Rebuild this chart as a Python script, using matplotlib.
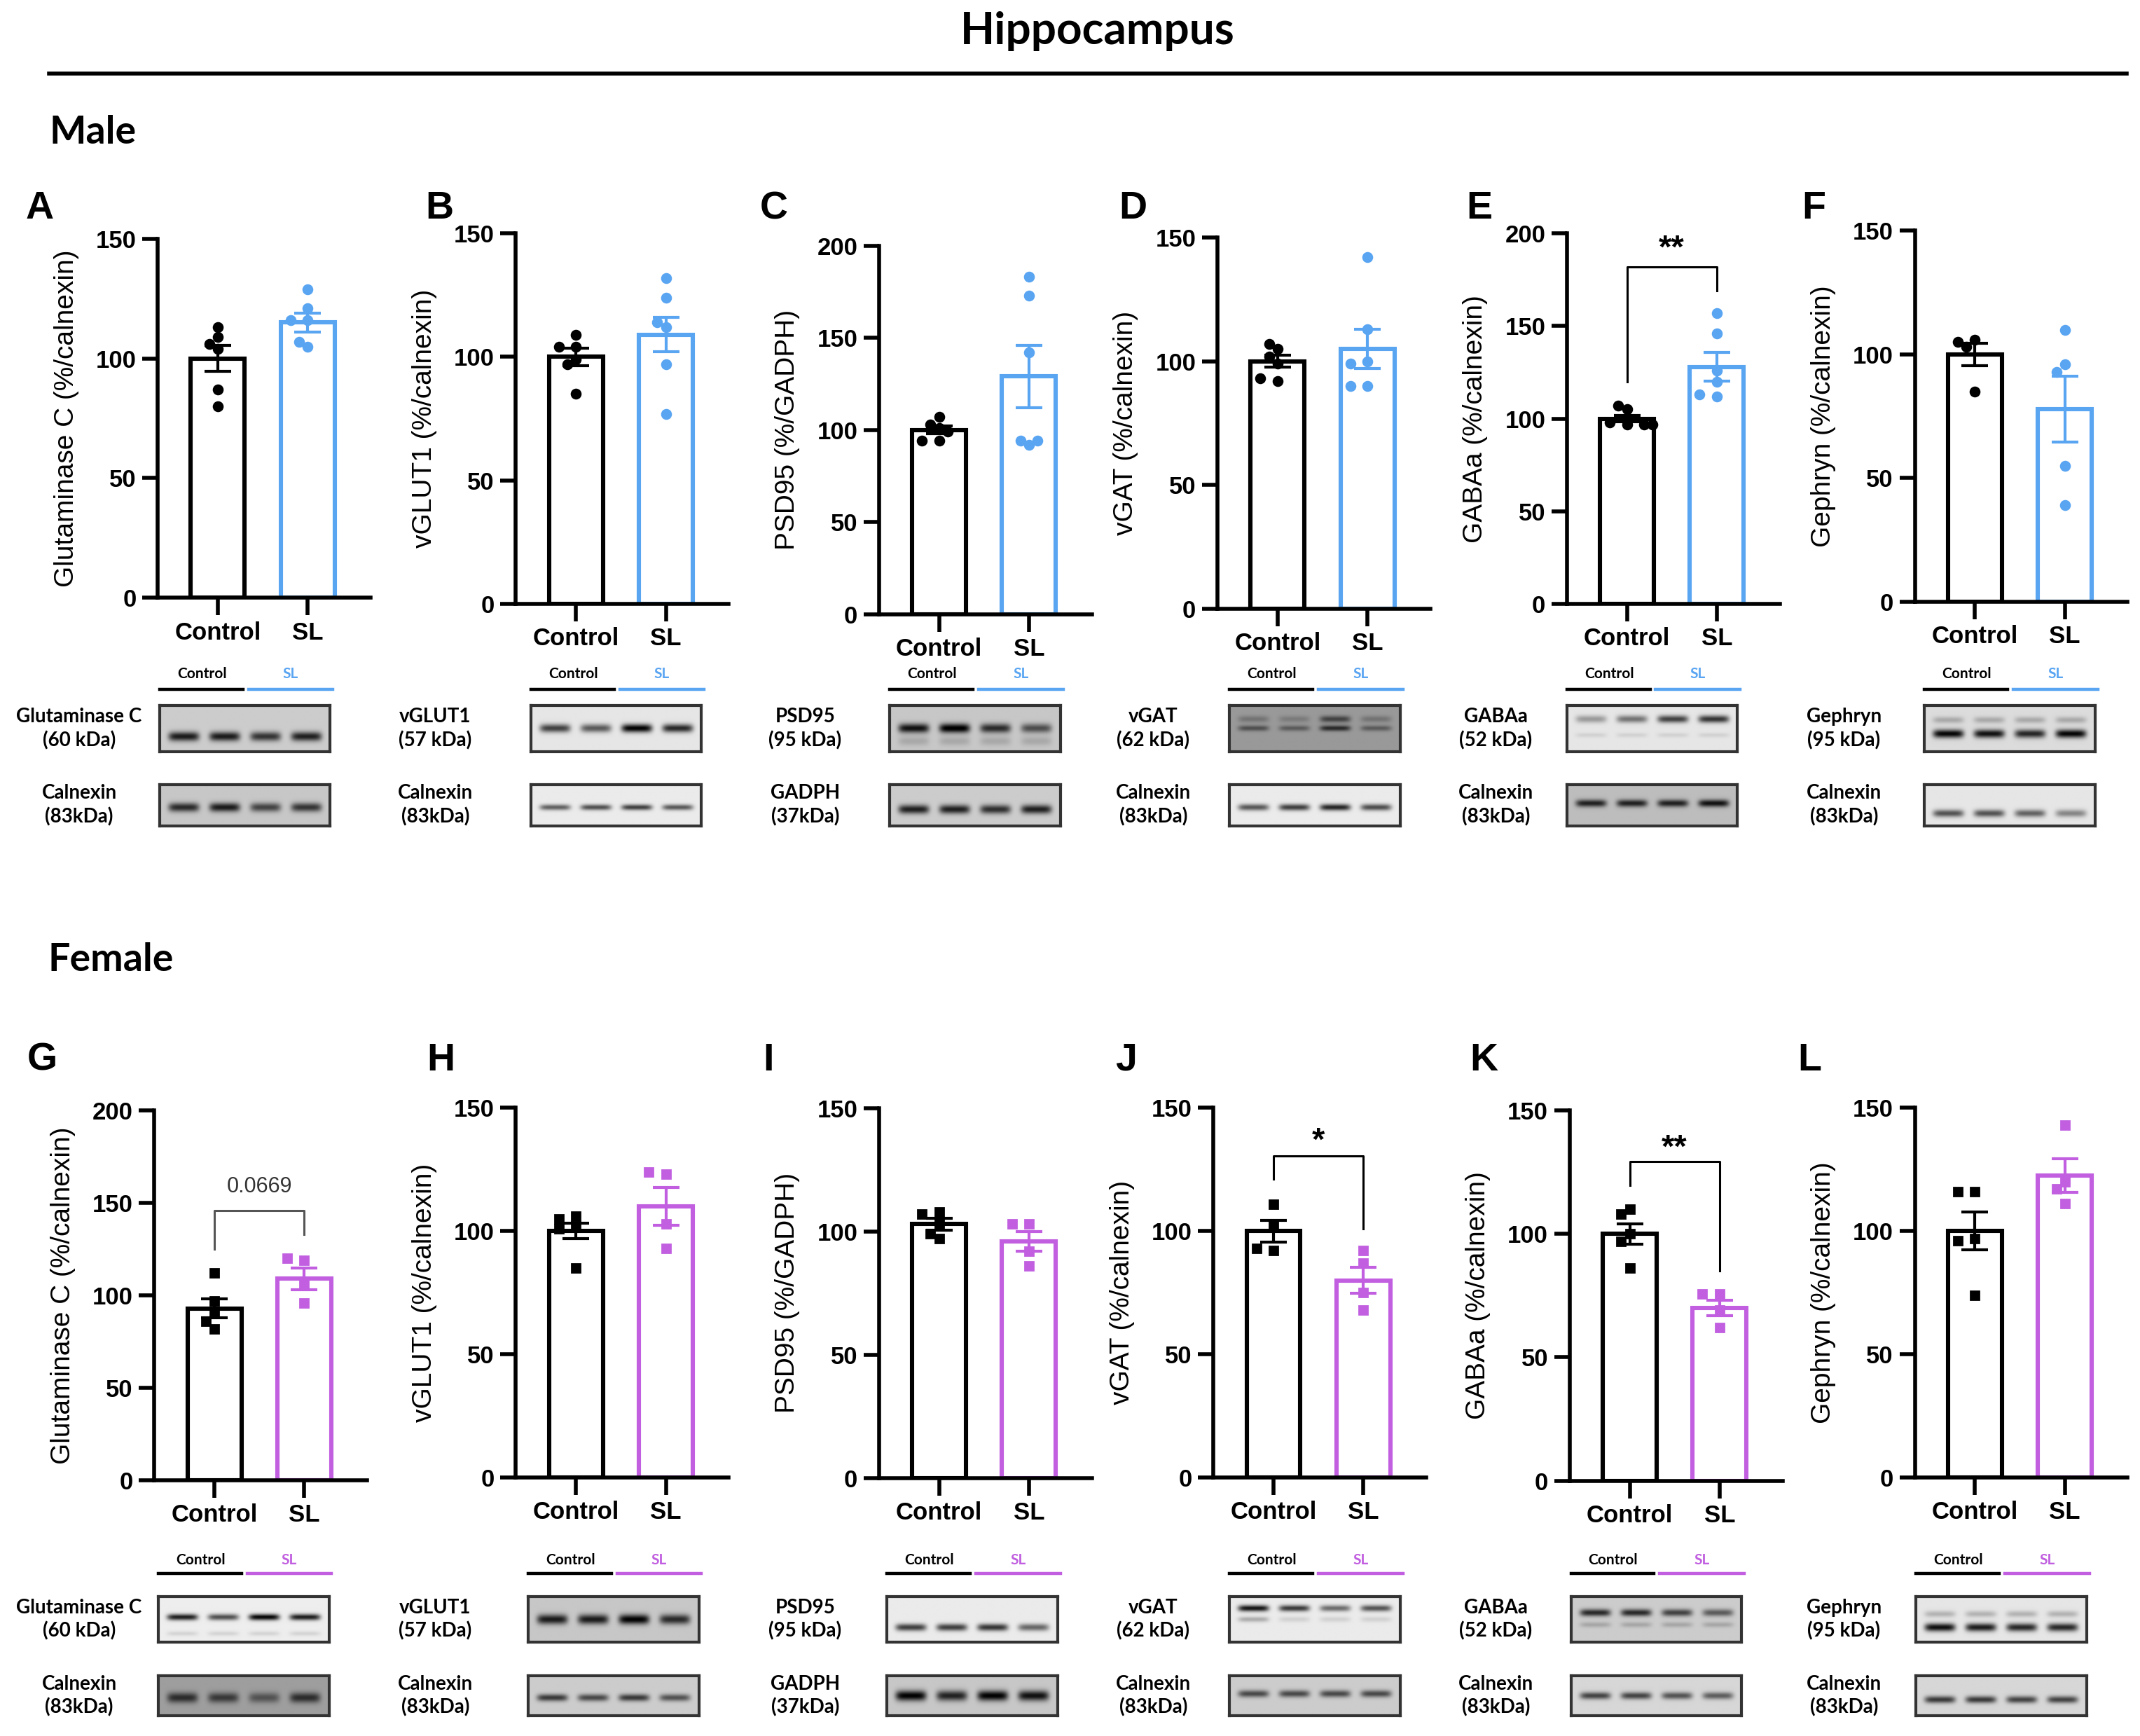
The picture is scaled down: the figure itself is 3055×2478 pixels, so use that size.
import numpy as np
import matplotlib
matplotlib.use("Agg")
import matplotlib.pyplot as plt
from matplotlib.lines import Line2D

plt.rcParams['font.family'] = ['Liberation Sans', 'DejaVu Sans']

# ---------------- data ----------------
groups = ["Control", "SL"]

male_ylabels = ["Glutaminase C (%/calnexin)", "vGLUT1 (%/calnexin)", "PSD95 (%/GADPH)",
                "vGAT (%/calnexin)", "GABAa (%/calnexin)", "Gephryn (%/calnexin)"]
female_ylabels = male_ylabels
male_ymax = [150, 150, 200, 150, 200, 150]
female_ymax = [200, 150, 150, 150, 150, 150]

male_ctrl_pts = [[113, 109, 104, 106, 87, 80], [109, 104, 104, 99, 97, 85],
                 [107, 103, 101, 99, 94, 94], [105, 107, 102, 99, 92, 93],
                 [105, 107, 97, 98, 97, 97], [106, 105, 103, 85]]
male_sl_pts = [[129, 121, 116, 116, 105, 107], [132, 124, 112, 114, 97, 77],
               [183, 173, 142, 92, 94, 94], [142, 113, 100, 99, 90, 90],
               [157, 146, 126, 120, 112, 113], [110, 96, 93, 55, 39]]
male_means = [[100, 115], [100, 109], [100, 129], [100, 105], [100, 128], [100, 78]]
male_sems = [[5.5, 3.9], [3.6, 7.0], [2.0, 17.0], [2.3, 8.0], [1.8, 7.8], [4.5, 13.3]]

female_ctrl_pts = [[112, 97, 91, 82, 86], [106, 105, 102, 101, 85],
                   [108, 107, 103, 97, 99], [111, 103, 92, 93],
                   [110, 108, 100, 97, 86], [116, 116, 97, 96, 74]]
female_sl_pts = [[119, 120, 106, 96], [123, 124, 103, 93], [103, 103, 92, 86],
                 [92, 87, 75, 68], [75.5, 75.5, 69, 62], [143, 120, 117, 111]]
female_means = [[93, 109], [100, 110], [103, 96], [100, 80], [100, 70], [100, 122.5]]
female_sems = [[5.1, 5.9], [3.2, 7.7], [2.4, 3.9], [4.5, 5.2], [4.1, 3.1], [7.6, 6.9]]

# significance: panel index -> (text, bracket height, left leg end, right leg end, text centre)
male_sig = {4: ("**", 182, 120, 169, 196)}
female_sig = {0: ("0.0669", 146, 125, 133, 160),
              3: ("*", 130.5, 121, 101, 139.6),
              4: ("**", 129.3, 119.5, 85, 137.6)}

letters_m = ["A", "B", "C", "D", "E", "F"]
letters_f = ["G", "H", "I", "J", "K", "L"]

blot_top_m = ["Glutaminase C\n(60 kDa)", "vGLUT1\n(57 kDa)", "PSD95\n(95 kDa)",
              "vGAT\n(62 kDa)", "GABAa\n(52 kDa)", "Gephryn\n(95 kDa)"]
blot_bot_m = ["Calnexin\n(83kDa)", "Calnexin\n(83kDa)", "GADPH\n(37kDa)",
              "Calnexin\n(83kDa)", "Calnexin\n(83kDa)", "Calnexin\n(83kDa)"]
blot_top_f = blot_top_m
blot_bot_f = blot_bot_m

# blot look: (background, [(row, sigma, lane darkness x4), ...])
blots_m_top = [(0.80, [(0.68, 0.10, [0.70, 0.70, 0.60, 0.68])]),
               (0.90, [(0.50, 0.09, [0.65, 0.55, 0.90, 0.75])]),
               (0.78, [(0.50, 0.10, [0.72, 0.82, 0.62, 0.48]), (0.78, 0.10, [0.12] * 4)]),
               (0.60, [(0.30, 0.07, [0.15, 0.12, 0.35, 0.15]), (0.50, 0.06, [0.30, 0.25, 0.45, 0.25])]),
               (0.90, [(0.30, 0.08, [0.30, 0.45, 0.65, 0.70]), (0.65, 0.05, [0.08] * 4)]),
               (0.86, [(0.32, 0.07, [0.20] * 4), (0.62, 0.09, [0.85, 0.80, 0.72, 0.85])])]
blots_m_bot = [(0.78, [(0.55, 0.11, [0.62, 0.68, 0.52, 0.58])]),
               (0.92, [(0.55, 0.07, [0.55, 0.62, 0.68, 0.58])]),
               (0.80, [(0.60, 0.11, [0.68, 0.68, 0.62, 0.68])]),
               (0.92, [(0.55, 0.08, [0.58, 0.68, 0.78, 0.62])]),
               (0.74, [(0.45, 0.09, [0.62, 0.62, 0.62, 0.68])]),
               (0.90, [(0.70, 0.09, [0.58, 0.58, 0.52, 0.38])])]
blots_f_top = [(0.93, [(0.45, 0.07, [0.82, 0.62, 0.92, 0.82]), (0.82, 0.05, [0.10] * 4)]),
               (0.78, [(0.50, 0.11, [0.68, 0.68, 0.78, 0.62])]),
               (0.92, [(0.68, 0.08, [0.68, 0.68, 0.72, 0.52])]),
               (0.92, [(0.25, 0.07, [0.85, 0.70, 0.50, 0.60]), (0.50, 0.06, [0.25, 0.10, 0.10, 0.10])]),
               (0.80, [(0.35, 0.08, [0.65, 0.65, 0.55, 0.45]), (0.62, 0.06, [0.15] * 4)]),
               (0.90, [(0.38, 0.07, [0.20] * 4), (0.68, 0.09, [0.85, 0.80, 0.75, 0.75])])]
blots_f_bot = [(0.62, [(0.55, 0.13, [0.45, 0.40, 0.30, 0.45])]),
               (0.80, [(0.55, 0.09, [0.58, 0.52, 0.58, 0.48])]),
               (0.78, [(0.50, 0.13, [0.78, 0.65, 0.78, 0.72])]),
               (0.80, [(0.45, 0.09, [0.52, 0.52, 0.52, 0.52])]),
               (0.84, [(0.50, 0.09, [0.58, 0.58, 0.52, 0.48])]),
               (0.84, [(0.60, 0.09, [0.62, 0.62, 0.58, 0.58])])]

# ---------------- layout (reference pixels at half scale) ----------------
W, H = 1568.0, 1272.0
AX_W = 156
UNIT = 66.0          # px between the two bars
XLIM = (-0.67, 1.70)

male_axes = [(115.5, 175, 438), (378, 171, 442.5), (644, 180, 450),
             (892, 174, 446), (1148, 171, 442.5), (1403, 169, 441)]
female_axes = [(113, 813.6, 1084.7), (378, 811.7, 1082.6), (644, 812, 1083),
               (889, 811.8, 1082.6), (1150, 813.5, 1085), (1403, 811.7, 1082.6)]
letter_x_m = [29, 322, 567, 830, 1084, 1329]
letter_x_f = [31, 323, 563, 825, 1087, 1326]
blot_left_m = [117, 389, 652, 901, 1148, 1410]
blot_left_f = [116, 387, 650, 901, 1151, 1404]
blot_label_x = [58, 319, 590, 845, 1096, 1351]

BLUE = "#5aa5f2"
PURPLE = "#c15fe0"


def fx(x):
    return x / W


def fy(y):
    return 1 - y / H


def swarm(vals, ymax, h_px, d_px=6.6):
    placed, offs = [], []
    for v in vals:
        for k in [0, -1, 1, -2, 2, -3, 3]:
            o = k * d_px * 0.95
            if all(np.hypot(o - po, (v - pv) * h_px / ymax) >= d_px for po, pv in placed):
                break
        placed.append((o, v))
        offs.append(o / UNIT)
    return np.array(offs)


def blot_image(bg, bands, nrow=40, ncol=240):
    img = np.full((nrow, ncol), float(bg))
    rows = np.linspace(0, 1, nrow)[:, None]
    cols = np.linspace(0, 1, ncol)[None, :]
    for r, s, darks in bands:
        for i, d in enumerate(darks):
            c = 0.14 + i * 0.24
            hp = np.exp(-((cols - c) / 0.09) ** 6)
            vp = np.exp(-((rows - r) / s) ** 2)
            img -= d * hp * vp
    return np.clip(img, 0, 1)


fig = plt.figure(figsize=(15.275, 12.39), dpi=200)

fig.text(fx(804), fy(23), "Hippocampus", ha="center", va="center",
         fontsize=23, fontweight="bold", family=["Lato", "DejaVu Sans"])
fig.add_artist(Line2D([fx(36), fx(1558)], [fy(54), fy(54)], color="black", lw=2))
fig.text(fx(36), fy(97), "Male", ha="left", va="center",
         fontsize=20, fontweight="bold", family=["Lato", "DejaVu Sans"])
fig.text(fx(35), fy(703), "Female", ha="left", va="center",
         fontsize=20, fontweight="bold", family=["Lato", "DejaVu Sans"])


def draw_row(axes_pos, ylabels, ymaxs, ctrl_pts, sl_pts, means, sems, sig, color, marker, msize,
             letters, letter_x, letter_y, blot_left, top_labels, bot_labels, tops, bots,
             head_y, line_y, box1, box2):
    for i in range(6):
        left, top, zero = axes_pos[i]
        ax = fig.add_axes([fx(left), fy(zero), AX_W / W, (zero - top) / H])
        h_px = zero - top
        ymax = ymaxs[i]
        cols = ["black", color]
        ax.bar([0, 1], means[i], width=0.6, color="white", edgecolor=cols,
               linewidth=2.2, zorder=2)
        for j, pts in enumerate([ctrl_pts[i], sl_pts[i]]):
            ax.errorbar(j, means[i][j], yerr=sems[i][j], color=cols[j], capsize=7,
                        elinewidth=1.5, capthick=1.5, zorder=3)
            offs = swarm(pts, ymax, h_px)
            ax.plot(j + offs, pts, marker=marker, ms=msize, color=cols[j], ls="none",
                    zorder=4, clip_on=False)
        if i in sig:
            txt, by, l0, l1, ty = sig[i]
            numeric = txt[0].isdigit()
            lc = "#555555" if numeric else "black"
            ax.plot([0, 0, 1, 1], [l0, by, by, l1], color=lc, lw=1.1, zorder=3)
            if numeric:
                ax.annotate(txt, (0.5, ty), xytext=(0, -0.36 * 11), textcoords="offset points",
                            ha="center", va="baseline", fontsize=11, color="#333333")
            else:
                ax.annotate(txt, (0.5, ty), xytext=(0, -0.5 * 17), textcoords="offset points",
                            ha="center", va="baseline", fontsize=17, fontweight="bold")
        ax.set_xlim(*XLIM)
        ax.set_ylim(0, ymax)
        ax.set_yticks(np.arange(0, ymax + 1, 50))
        ax.set_xticks([0, 1])
        ax.set_xticklabels(groups, fontsize=12.5, fontweight="bold")
        for t in ax.get_yticklabels():
            t.set_fontsize(12.5)
            t.set_fontweight("bold")
        ax.tick_params(axis="both", width=2, length=8, pad=3)
        ax.tick_params(axis="x", length=9)
        for s in ["top", "right"]:
            ax.spines[s].set_visible(False)
        for s in ["left", "bottom"]:
            ax.spines[s].set_linewidth(2)
        ax.set_ylabel(ylabels[i], fontsize=14)
        ax.yaxis.set_label_coords(-0.37, 0.5)
        ax.patch.set_alpha(0)

        fig.text(fx(letter_x[i]), fy(letter_y), letters[i], ha="center", va="center",
                 fontsize=20, fontweight="bold")

        # western blot strip
        bl = blot_left[i]
        fig.add_artist(Line2D([fx(bl), fx(bl + 61)], [fy(line_y)] * 2, color="black", lw=1.6))
        fig.add_artist(Line2D([fx(bl + 65), fx(bl + 127)], [fy(line_y)] * 2, color=color, lw=1.6))
        fig.text(fx(bl + 31), fy(head_y), "Control", ha="center", va="center",
                 fontsize=7.5, fontweight="bold", family=["Lato", "DejaVu Sans"])
        fig.text(fx(bl + 96), fy(head_y), "SL", ha="center", va="center", color=color,
                 fontsize=7.5, fontweight="bold", family=["Lato", "DejaVu Sans"])
        for (y0, y1), spec, lab in [(box1, tops[i], top_labels[i]), (box2, bots[i], bot_labels[i])]:
            bax = fig.add_axes([fx(bl), fy(y1), 125 / W, (y1 - y0) / H])
            bax.imshow(blot_image(*spec), cmap="gray", vmin=0, vmax=1, aspect="auto",
                       interpolation="bilinear")
            bax.set_xticks([])
            bax.set_yticks([])
            for s in bax.spines.values():
                s.set_color("#333333")
                s.set_linewidth(1.5)
            fig.text(fx(blot_label_x[i]), fy((y0 + y1) / 2), lab, ha="center", va="center",
                     fontsize=10, fontweight="bold", linespacing=1.3,
                     family=["Lato", "DejaVu Sans"])


draw_row(male_axes, male_ylabels, male_ymax, male_ctrl_pts, male_sl_pts, male_means, male_sems,
         male_sig, BLUE, "o", 4.6, letters_m, letter_x_m, 153, blot_left_m, blot_top_m, blot_bot_m,
         blots_m_top, blots_m_bot, 494, 505, (517, 551), (575, 605))
draw_row(female_axes, female_ylabels, female_ymax, female_ctrl_pts, female_sl_pts, female_means,
         female_sems, female_sig, PURPLE, "s", 4.0, letters_f, letter_x_f, 777, blot_left_f,
         blot_top_f, blot_bot_f, blots_f_top, blots_f_bot, 1143, 1153, (1170, 1203), (1228, 1257))

fig.savefig("out.png", dpi=200)
